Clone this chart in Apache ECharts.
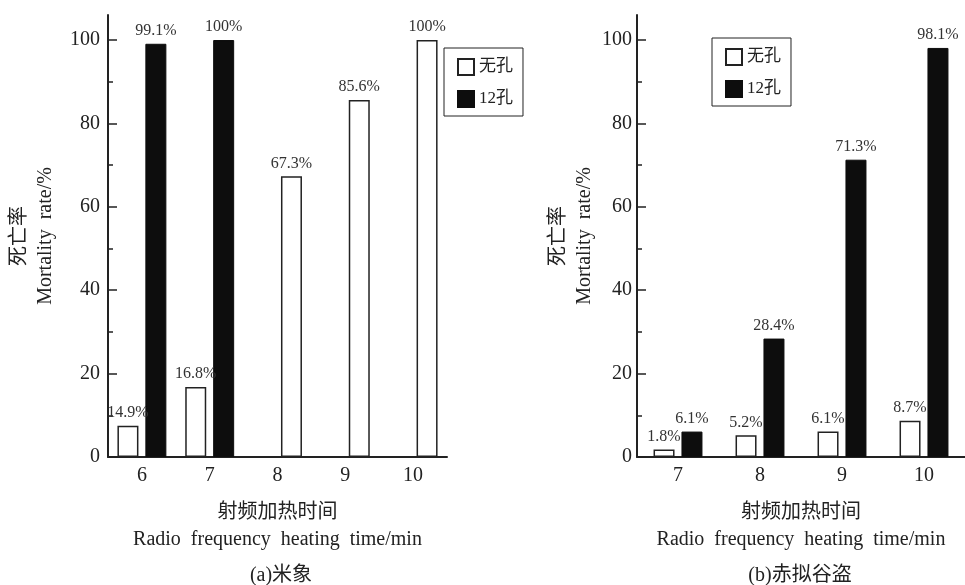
<!DOCTYPE html>
<html>
<head>
<meta charset="utf-8">
<title>死亡率</title>
<script src="https://cdn.jsdelivr.net/npm/echarts@6/dist/echarts.min.js"></script>
<style>
  html, body { margin: 0; padding: 0; background: #fff; }
  #chart { width: 965px; height: 585px; }
</style>
</head>
<body>
<div id="chart"></div>
<script>
// (a)米象
const leftCategories = ["6", "7", "8", "9", "10"];
const leftNoHoleValues = [7.5, 16.8, 67.3, 85.6, 100];
const leftNoHoleLabels = ["14.9%", "16.8%", "67.3%", "85.6%", "100%"];
const leftHoleValues = [99.1, 100, null, null, null];
const leftHoleLabels = ["99.1%", "100%", "", "", ""];
// (b)赤拟谷盗
const rightCategories = ["7", "8", "9", "10"];
const rightNoHoleValues = [1.8, 5.2, 6.1, 8.7];
const rightHoleValues = [6.1, 28.4, 71.3, 98.1];
// 纵轴刻度
const yTicks = [0, 20, 40, 60, 80, 100];
const yMinorTicks = [10, 30, 50, 70, 90];
const legendNames = ["无孔", "12孔"];

const FONT = '"Liberation Serif", "Noto Sans CJK SC", serif';
const INK = "#222";
const whiteStyle = { color: "#fff", borderColor: INK, borderWidth: 1.5 };
const blackStyle = { color: "#0d0d0d", borderColor: "#0d0d0d", borderWidth: 1 };

(() => {
  const chart = echarts.init(document.getElementById("chart"));
  chart.setOption({
    animation: false,
    backgroundColor: "#fff",
    textStyle: { fontFamily: FONT, color: INK },
    grid: [
      { left: 108, top: 15, width: 339, height: 442 },
      { left: 637, top: 15, width: 336, height: 442 },
    ],
    xAxis: [configXAxis(0, leftCategories), configXAxis(1, rightCategories)],
    yAxis: [
      configYAxis(0, 49, 8),
      configMinorYAxis(0),
      configYAxis(1, 39, 5),
      configMinorYAxis(1),
    ],
    legend: [configLegend(444, 48), configLegend(712, 38)],
    series: [...configLeftSeries(), ...configRightSeries()],
    graphic: [
      configCaption(281, 576, "(a)米象"),
      configCaption(800, 576, "(b)赤拟谷盗"),
    ],
  });
})();

// 横轴
function configXAxis(gridIndex, data) {
  return {
    type: "category",
    gridIndex: gridIndex,
    data: data,
    axisTick: { show: false },
    axisLine: { lineStyle: { color: INK, width: 2 } },
    axisLabel: { color: INK, fontSize: 20, fontFamily: FONT, margin: 9 },
    name: "射频加热时间\nRadio  frequency  heating  time/min",
    nameLocation: "middle",
    nameGap: 42,
    nameTextStyle: {
      color: INK,
      fontSize: 20,
      lineHeight: 27,
      fontFamily: FONT,
    },
  };
}

// 纵轴（主刻度）
function configYAxis(gridIndex, nameGap, labelMargin) {
  return {
    type: "value",
    gridIndex: gridIndex,
    position: "left",
    min: 0,
    max: 106,
    splitLine: { show: false },
    axisLine: { show: true, lineStyle: { color: INK, width: 2 } },
    axisTick: {
      show: true,
      inside: true,
      length: 9,
      customValues: yTicks,
      lineStyle: { color: INK, width: 1.5 },
    },
    axisLabel: {
      customValues: yTicks,
      color: INK,
      fontSize: 20,
      fontFamily: FONT,
      margin: labelMargin,
    },
    name: "死亡率\nMortality  rate/%",
    nameLocation: "middle",
    nameRotate: 90,
    nameGap: nameGap,
    nameTextStyle: {
      color: INK,
      fontSize: 20,
      lineHeight: 26,
      fontFamily: FONT,
    },
  };
}

// 纵轴（次刻度）
function configMinorYAxis(gridIndex) {
  return {
    type: "value",
    gridIndex: gridIndex,
    position: "left",
    offset: 0,
    min: 0,
    max: 106,
    splitLine: { show: false },
    axisLine: { show: false },
    axisLabel: { show: false },
    axisTick: {
      show: true,
      inside: true,
      length: 5,
      customValues: yMinorTicks,
      lineStyle: { color: INK, width: 1.5 },
    },
  };
}

function configLegend(left, top) {
  return {
    left: left,
    top: top,
    orient: "vertical",
    data: legendNames,
    icon: "rect",
    itemWidth: 16,
    itemHeight: 16,
    itemGap: 14,
    borderColor: INK,
    borderWidth: 1,
    padding: [10, 10, 8, 13],
    textStyle: { color: INK, fontSize: 17, fontFamily: FONT },
  };
}

function labelOption(formatter) {
  return {
    show: true,
    position: "top",
    distance: 5,
    color: "#333",
    fontSize: 16,
    fontFamily: FONT,
    formatter: formatter,
  };
}

// 左图：8~10 min 只有无孔，放在 12孔 的位置上
function configLeftSeries() {
  const pairedNoHole = leftNoHoleValues.map((v, i) =>
    leftHoleValues[i] == null ? null : v
  );
  const singleNoHole = leftNoHoleValues.map((v, i) =>
    leftHoleValues[i] == null ? v : null
  );
  const noHoleLabel = labelOption((p) => leftNoHoleLabels[p.dataIndex]);
  return [
    {
      name: "无孔",
      type: "bar",
      xAxisIndex: 0,
      yAxisIndex: 0,
      data: pairedNoHole,
      barWidth: 21,
      itemStyle: whiteStyle,
      label: noHoleLabel,
    },
    {
      name: "12孔",
      type: "bar",
      xAxisIndex: 0,
      yAxisIndex: 0,
      stack: "slot",
      data: leftHoleValues,
      barWidth: 21,
      itemStyle: blackStyle,
      label: labelOption((p) => leftHoleLabels[p.dataIndex]),
    },
    {
      name: "无孔",
      type: "bar",
      xAxisIndex: 0,
      yAxisIndex: 0,
      stack: "slot",
      data: singleNoHole,
      barWidth: 21,
      barGap: "33%",
      itemStyle: whiteStyle,
      label: noHoleLabel,
    },
  ];
}

// 右图
function configRightSeries() {
  const percent = labelOption((p) => p.value + "%");
  return [
    {
      name: "无孔",
      type: "bar",
      xAxisIndex: 1,
      yAxisIndex: 2,
      data: rightNoHoleValues,
      barWidth: 21,
      itemStyle: whiteStyle,
      label: percent,
    },
    {
      name: "12孔",
      type: "bar",
      xAxisIndex: 1,
      yAxisIndex: 2,
      data: rightHoleValues,
      barWidth: 21,
      barGap: "33%",
      itemStyle: blackStyle,
      label: percent,
    },
  ];
}

function configCaption(x, y, text) {
  return {
    type: "text",
    x: x,
    y: y,
    style: {
      text: text,
      fill: INK,
      font: "20px " + FONT,
      textAlign: "center",
      textVerticalAlign: "middle",
    },
  };
}
</script>
</body>
</html>
